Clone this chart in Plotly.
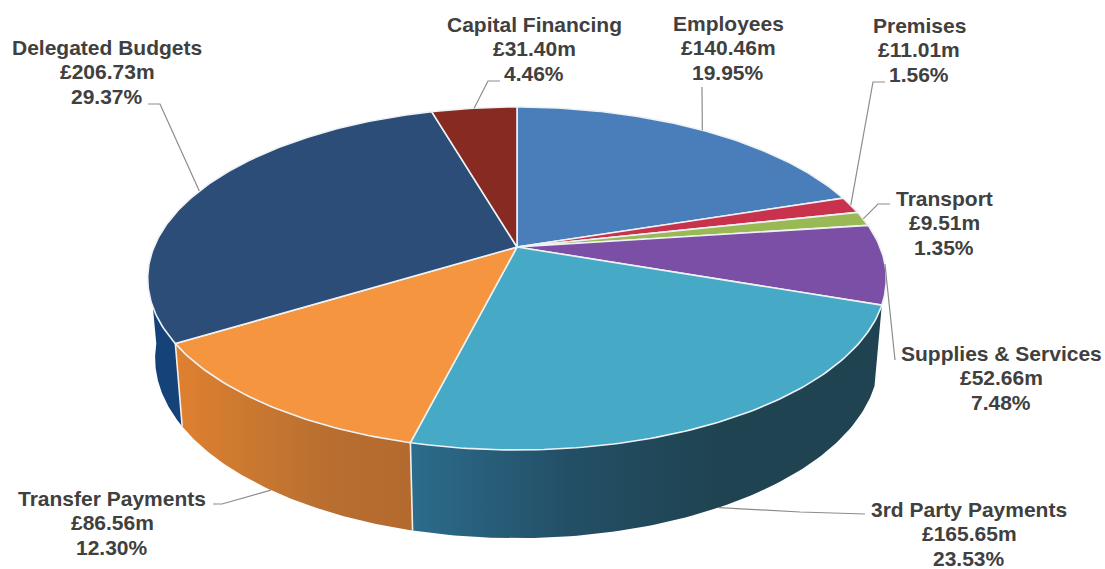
import numpy as np
import plotly.graph_objects as go

# ---- data ----
names = ["Employees", "Premises", "Transport", "Supplies & Services",
         "3rd Party Payments", "Transfer Payments", "Delegated Budgets", "Capital Financing"]
amounts = [140.46, 11.01, 9.51, 52.66, 165.65, 86.56, 206.73, 31.40]
amount_labels = ["£140.46m", "£11.01m", "£9.51m", "£52.66m", "£165.65m", "£86.56m", "£206.73m", "£31.40m"]
percent_labels = ["19.95%", "1.56%", "1.35%", "7.48%", "23.53%", "12.30%", "29.37%", "4.46%"]

# ---- styles ----
top_colors = ["#4a7ebb", "#c8324c", "#98b954", "#7c4fa6", "#46a9c6", "#f59540", "#2b4d78", "#872a22"]
wall_scales = {
    4: ["#2c6c8c", "#234f66", "#1f4350", "#1f4350"],
    5: ["#e08030", "#c97830", "#b86e30", "#b4692e"],
    6: ["#123f78", "#16427a", "#16427a", "#16427a"],
}
TEXT = "#404040"
LEAD = "#8c8c8c"

# ---- projection of the tilted disc ----
PX, PY = 517.0, 247.0
C, B, K = 363.0, 165.7, 0.1837
SX, SY, DROP = 0.98, 1.05, 78.0


def top(t):
    x, y = np.sin(t), np.cos(t)
    d = 1 + K * y
    return PX + C * x / d, PY - B * y / d


def bottom(t):
    x, y = np.sin(t), np.cos(t)
    d = 1 + K * y
    return PX + SX * C * x / d, PY + DROP - SY * B * y / d


total = sum(amounts)
edges = 2 * np.pi * np.concatenate([[0], np.cumsum(amounts)]) / total
WALL_END = np.radians(264)

fig = go.Figure()

# walls first
for i in (6, 5, 4):
    a0, a1 = edges[i], min(edges[i + 1], WALL_END)
    t = np.linspace(a0, a1, 90)
    xt, yt = top(t)
    xb, yb = bottom(t[::-1])
    stops = wall_scales[i]
    fig.add_trace(go.Scatter(
        x=np.r_[xt, xb, xt[0]], y=np.r_[yt, yb, yt[0]], mode="lines", fill="toself",
        line=dict(width=0, color=stops[0]), hoverinfo="skip", showlegend=False,
        fillgradient=dict(type="horizontal",
                          colorscale=[[j / (len(stops) - 1), c] for j, c in enumerate(stops)]),
    ))

# wall seams
for a in (edges[5], edges[6]):
    xa, ya = top(a)
    xb, yb = bottom(a)
    fig.add_trace(go.Scatter(x=[xa, xb], y=[ya, yb], mode="lines",
                             line=dict(color="#f4efe6", width=1.6),
                             hoverinfo="skip", showlegend=False))

# top surface
for i in range(len(amounts)):
    t = np.linspace(edges[i], edges[i + 1], max(8, int((edges[i + 1] - edges[i]) * 70)))
    xs, ys = top(t)
    fig.add_trace(go.Scatter(
        x=np.r_[PX, xs, PX], y=np.r_[PY, ys, PY], mode="lines", fill="toself",
        fillcolor=top_colors[i], line=dict(color="#eef2f4", width=1.6),
        name=names[i], hoverinfo="skip", showlegend=False,
    ))

# leader lines: start on the slice mid-angle, then run to each label
mids = (edges[:-1] + edges[1:]) / 2
leader_tail = [
    [(702, 87)],
    [(873, 82), (885, 82)],
    [(878, 204), (890, 204)],
    [(895, 360)],
    [(800, 512), (865, 514)],
    [(222, 504), (213, 504)],
    [(160, 104), (148, 104)],
    [(488, 81), (500, 81)],
]
for i, tail in enumerate(leader_tail):
    sx, sy = bottom(mids[i]) if i in (4, 5) else top(mids[i])
    fig.add_trace(go.Scatter(
        x=[sx] + [p[0] for p in tail], y=[sy] + [p[1] for p in tail], mode="lines",
        line=dict(color=LEAD, width=1.2), hoverinfo="skip", showlegend=False))

# labels
label_pos = [(728, 23), (919, 25), (944, 198), (1001, 353),
             (969, 509), (112, 498), (107, 47), (534, 24)]
annotations = []
for i, (lx, ly) in enumerate(label_pos):
    for j, txt in enumerate((names[i], amount_labels[i], percent_labels[i])):
        annotations.append(dict(
            x=lx, y=ly + j * 24.6, xref="x", yref="y", text="<b>%s</b>" % txt, showarrow=False,
            xanchor="center", yanchor="middle",
            font=dict(family="Liberation Sans", size=21, color=TEXT)))

fig.update_layout(
    width=1105, height=569, margin=dict(l=0, r=0, t=0, b=0),
    paper_bgcolor="white", plot_bgcolor="white", showlegend=False,
    xaxis=dict(range=[0, 1105], visible=False, fixedrange=True),
    yaxis=dict(range=[569, 0], visible=False, fixedrange=True),
    annotations=annotations,
)
fig.write_html("out.html", config={"displayModeBar": False},
               post_script="document.body.style.margin='0';")
